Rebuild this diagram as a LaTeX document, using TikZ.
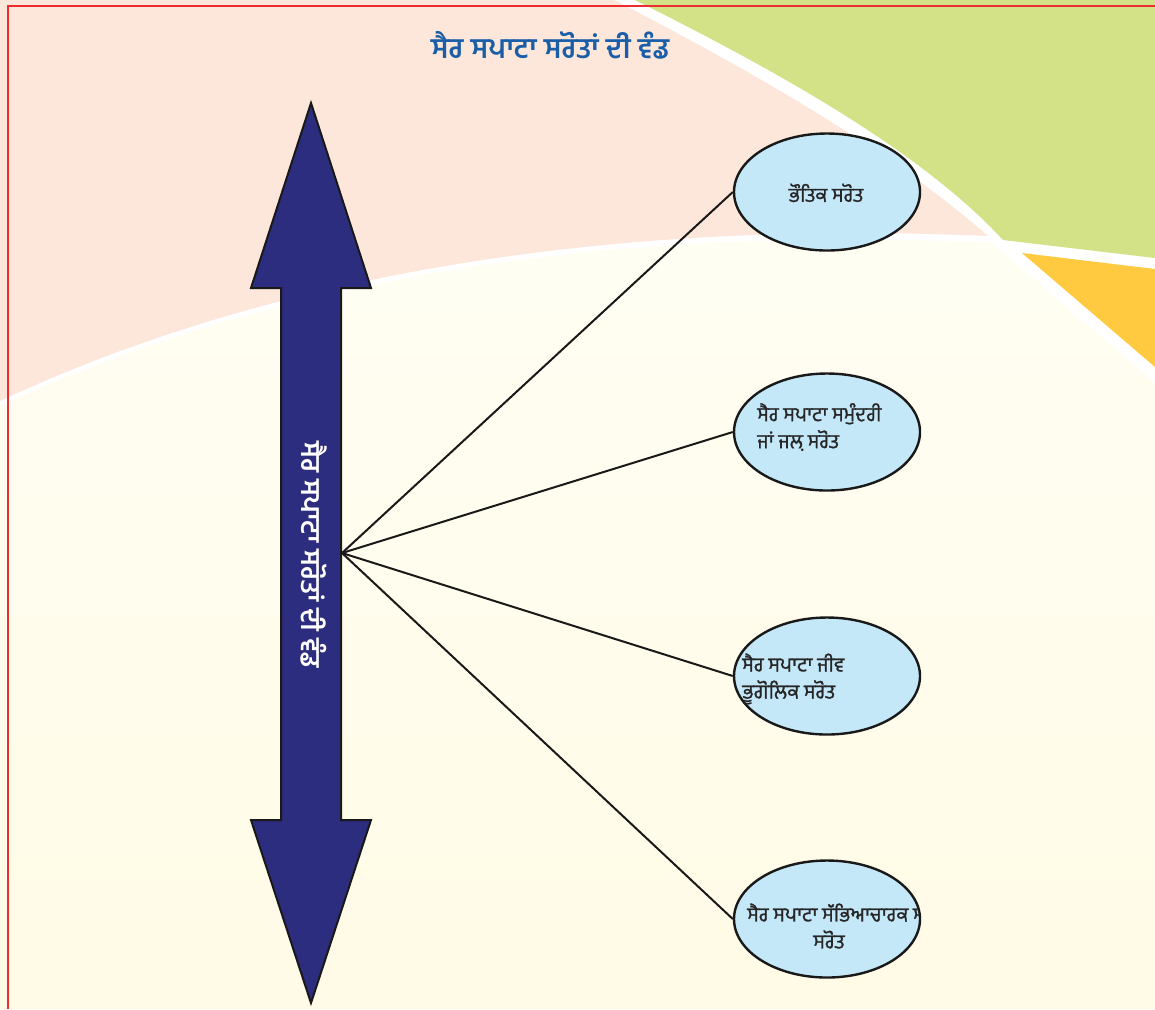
\documentclass[tikz,border=0pt]{standalone}
\usepackage{fontspec}
\newfontfamily\gurmukhi[Script=Gurmukhi]{Hind Jalandhar}
\newfontfamily\gurmukhisrc[Script=Gurmukhi, FakeBold=1.2]{Hind Jalandhar}
\usepackage{tikz}
\usetikzlibrary{shapes.geometric}
\usetikzlibrary{calc}
\definecolor{peach}{HTML}{FDE7DB}
\definecolor{leaf}{HTML}{D3E286}
\definecolor{sun}{HTML}{FFCA3F}
\definecolor{creamtop}{HTML}{FFFEF3}
\definecolor{creambot}{HTML}{FFFBE6}
\definecolor{srcblue}{HTML}{C5E8F9}
\definecolor{navy}{HTML}{2D2D7F}
\definecolor{titleblue}{HTML}{1A5EA8}
\definecolor{frame}{HTML}{EE2B2F}
\begin{document}
\begin{tikzpicture}[x=0.5pt,y=-0.5pt]%%sair sapata sarot
                \tikzstyle{source}  = [ellipse, draw=black!90, line width=1.2pt, fill=srcblue, minimum width=93pt, minimum height=58.5pt, inner sep=0pt]
                \tikzstyle{srctext} = [font=\gurmukhisrc\fontsize{10}{13.5}\selectfont, text=black!85, inner sep=0pt]
                \useasboundingbox (0,0) rectangle (1155,1009);
                % background
                \fill[white] (0,0) rectangle (1155,1009);
                \fill[peach] (0,0) -- (614,0) .. controls (750,70) and (890,150) .. (988,236)
                        .. controls (620,220) and (280,270) .. (0,401) -- cycle;
                \fill[leaf] (635,0) .. controls (775,70) and (920,150) .. (1003,240) -- (1155,258) -- (1155,0) -- cycle;
                \fill[sun] (1022,253) -- (1155,269) -- (1155,367) -- cycle;
                \shade[top color=creamtop, bottom color=creambot] (0,406) .. controls (280,275) and (620,225) .. (992,243)
                        -- (1155,383) -- (1155,1009) -- (0,1009) -- cycle;
                \draw[frame, line width=1.25pt] (1155,6) -- (8,6) -- (8,1009);
                \node[font=\gurmukhi\bfseries\fontsize{14.2}{18}\selectfont, text=titleblue](title) at (550,45) {ਸੈਰ ਸਪਾਟਾ ਸਰੋਤਾਂ ਦੀ ਵੰਡ};
                % double arrow
                \draw[line width=1pt, draw=black!90, fill=navy] (311,103) -- (371,288) -- (341,288) -- (341,820) -- (371,820)
                        -- (311,1003) -- (251,820) -- (281,820) -- (281,288) -- (251,288) -- cycle;
                \node[font=\gurmukhi\bfseries\fontsize{13.5}{18}\selectfont, text=white, rotate=-90](axis) at (314,555) {ਸੈਰ ਸਪਾਟਾ ਸਰੋਤਾਂ ਦੀ ਵੰਡ};
                \coordinate (hub) at (342,553);
                % sources
                \foreach \i/\y in {1/192,2/432,3/676,4/919}
                {
                        \node [source](e\i) at (827,\y) {};
                        \draw[line width=1pt, black!90] (hub) -- (e\i.west);
                }
                \node [srctext](t1) at (826,193) {ਭੌਤਿਕ ਸਰੋਤ};
                \node [srctext, anchor=west, align=left](t2) at (757,427) {ਸੈਰ ਸਪਾਟਾ ਸਮੁੰਦਰੀ\\ਜਾਂ ਜਲ਼ ਸਰੋਤ};
                \node [srctext, anchor=west, align=left](t3) at (742,679) {ਸੈਰ ਸਪਾਟਾ ਜੀਵ\\ਭੂਗੋਲਿਕ ਸਰੋਤ};
                \begin{scope}
                        \clip (827,919) ellipse [x radius=92, y radius=57];
                        \node [srctext, align=center](t4) at (836,926) {ਸੈਰ ਸਪਾਟਾ ਸੱਭਿਆਚਾਰਕ ਸ\\ਸਰੋਤ\hspace*{7pt}};
                \end{scope}
\end{tikzpicture}
\end{document}
